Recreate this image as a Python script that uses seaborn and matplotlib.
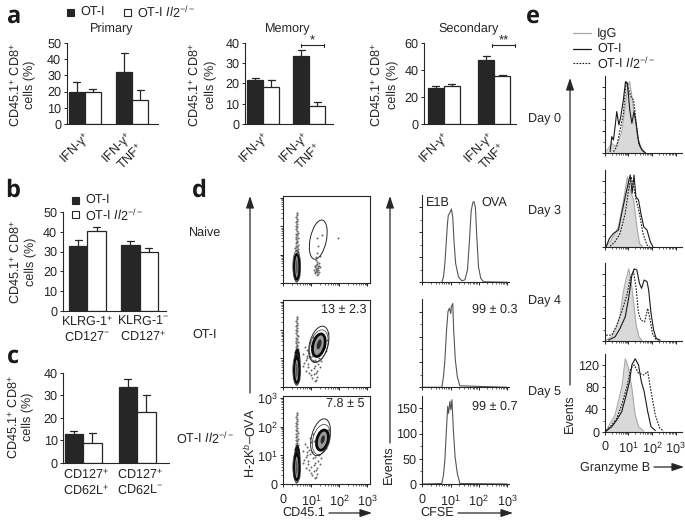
import matplotlib
matplotlib.use("Agg")
import matplotlib.pyplot as plt
import numpy as np
import pandas as pd
import seaborn as sns
from matplotlib.patches import Ellipse, Rectangle

sns.set_theme(style="ticks")
plt.rcParams["font.family"] = ["Liberation Sans", "DejaVu Sans"]
plt.rcParams["mathtext.fontset"] = "custom"
plt.rcParams["mathtext.rm"] = "Liberation Sans"
plt.rcParams["mathtext.it"] = "Liberation Sans:italic"
plt.rcParams["mathtext.bf"] = "Liberation Sans:bold"
plt.rcParams["text.hinting"] = "none"

INK = "#262626"
FS = 9.1
W, H = 685, 521
KO = r"OT-I $\mathit{Il2}^{-/-}$"
GENOTYPES = ["OT-I", "KO"]

# ------------------------------------------------
# Bar values (panels a, b, c)
# ------------------------------------------------
ifn_labels = ["IFN-γ$^{+}$", "IFN-γ$^{+}$\nTNF$^{+}$"]

primary_wt = [19.6, 32.4]
primary_ko = [19.6, 14.7]
primary_wt_top = [25.8, 43.6]
primary_ko_top = [21.9, 20.9]

memory_wt = [21.8, 33.4]
memory_ko = [18.2, 8.9]
memory_wt_top = [22.5, 36.7]
memory_ko_top = [21.8, 11.0]

secondary_wt = [26.8, 47.4]
secondary_ko = [28.3, 36.0]
secondary_wt_top = [28.5, 50.4]
secondary_ko_top = [30.0, 36.7]

klrg_labels = ["KLRG-1$^{+}$\nCD127$^{-}$", "KLRG-1$^{-}$\nCD127$^{+}$"]
klrg_wt = [33.0, 33.2]
klrg_ko = [40.7, 29.7]
klrg_wt_top = [35.8, 35.3]
klrg_ko_top = [42.7, 32.0]

cd62_labels = ["CD127$^{+}$\nCD62L$^{+}$", "CD127$^{+}$\nCD62L$^{-}$"]
cd62_wt = [12.7, 33.6]
cd62_ko = [8.7, 22.4]
cd62_wt_top = [14.2, 37.0]
cd62_ko_top = [13.3, 30.3]

# ------------------------------------------------
# Flow cytometry dots (log decades)
# ------------------------------------------------
column_x = [
    0.46, 0.50, 0.43, 0.53, 0.48, 0.41, 0.55, 0.47, 0.51, 0.44,
    0.49, 0.45, 0.52, 0.42, 0.54, 0.47, 0.50, 0.44, 0.56, 0.48,
    0.43, 0.51, 0.46, 0.53, 0.40, 0.49, 0.52, 0.45, 0.47, 0.50,
    0.44, 0.54, 0.48, 0.42, 0.51, 0.46, 0.49, 0.53, 0.45, 0.47,
    0.50, 0.44, 0.52, 0.48, 0.46, 0.51, 0.43, 0.49, 0.47, 0.53,
    0.45, 0.50, 0.48, 0.44, 0.52, 0.47, 0.49, 0.46, 0.51, 0.48,
    0.45, 0.50, 0.47, 0.49, 0.46, 0.48, 0.50, 0.47, 0.49, 0.48,
]
column_y = [
    0.08, 0.12, 0.16, 0.20, 0.22, 0.26, 0.28, 0.31, 0.33, 0.36,
    0.38, 0.40, 0.42, 0.44, 0.46, 0.48, 0.50, 0.52, 0.53, 0.55,
    0.57, 0.59, 0.61, 0.62, 0.64, 0.66, 0.68, 0.70, 0.72, 0.74,
    0.76, 0.78, 0.80, 0.83, 0.85, 0.88, 0.90, 0.93, 0.96, 0.99,
    1.02, 1.05, 1.08, 1.12, 1.15, 1.19, 1.23, 1.27, 1.31, 1.35,
    1.40, 1.44, 1.49, 1.54, 1.58, 1.63, 1.68, 1.73, 1.78, 1.84,
    1.90, 1.96, 2.02, 2.08, 2.14, 2.20, 2.27, 2.33, 2.40, 2.47,
]

naive_x = [1.12, 1.18, 1.22, 1.16, 1.25, 1.20, 1.28, 1.14, 1.19, 1.24,
           1.10, 1.21, 1.17, 1.26, 1.23, 1.15, 1.20, 1.30, 1.18, 1.22,
           1.24, 1.38, 1.19, 1.95, 1.32, 1.13, 1.27, 1.16, 1.21, 1.24]
naive_y = [0.35, 0.42, 0.30, 0.50, 0.45, 0.55, 0.38, 0.60, 0.68, 0.62,
           0.48, 0.75, 0.82, 0.70, 0.52, 0.40, 0.46, 0.58, 0.92, 1.05,
           1.30, 1.70, 1.60, 1.60, 0.95, 0.58, 0.62, 0.64, 0.38, 0.33]

scatter_x = [0.72, 0.80, 0.85, 0.90, 0.95, 1.00, 1.05, 1.10, 1.15, 1.20,
             0.75, 0.82, 0.88, 0.93, 0.98, 1.03, 1.08, 1.13, 1.18, 1.24,
             0.78, 0.86, 0.92, 1.02, 1.12, 1.22, 1.30, 0.70, 1.00, 1.16,
             1.48, 1.55, 1.60, 1.52, 0.96, 1.06, 1.26, 0.84, 1.10, 1.34]
scatter_y = [1.15, 0.95, 1.30, 0.80, 1.05, 0.60, 0.90, 0.45, 0.75, 0.35,
             0.85, 0.55, 0.70, 1.20, 0.40, 1.10, 0.65, 0.95, 0.50, 0.80,
             1.40, 1.00, 0.50, 0.30, 0.20, 0.55, 0.70, 0.75, 1.45, 0.25,
             1.40, 1.65, 1.90, 1.25, 1.60, 1.75, 1.00, 1.10, 1.50, 0.90]

# density rings: centre x, centre y, width, height, tilt
column_rings = [[0.48, 0.60, 0.28, 1.10, 0], [0.48, 0.58, 0.19, 0.88, 0], [0.48, 0.58, 0.07, 0.50, 0]]
upper_rings = [[0.50, 0.95, 0.22, 0.82, 0]]
otI_rings = [[1.27, 1.45, 0.62, 1.15, -15], [1.27, 1.47, 0.42, 0.82, -15], [1.28, 1.50, 0.15, 0.36, -15]]
ko_rings = [[1.36, 1.55, 0.60, 1.08, -15], [1.40, 1.53, 0.40, 0.72, -15], [1.41, 1.55, 0.13, 0.30, -15]]

# gate outline: centre x, centre y, width, height, tilt
gate_naive = [1.25, 1.53, 0.58, 1.40, -12]
gate_otI = [1.27, 1.50, 0.66, 1.32, -15]
gate_ko = [1.33, 1.63, 0.64, 1.32, -15]

# ------------------------------------------------
# CFSE histograms (panel d)
# ------------------------------------------------
cfse_naive_x = [0.69, 0.75, 0.80, 0.89, 0.92, 0.98, 1.03, 1.08, 1.12, 1.18, 1.28, 1.40,
                1.51, 1.60, 1.67, 1.73, 1.79, 1.83, 1.88, 1.93, 1.99, 2.07, 2.17, 3.00]
cfse_naive_y = [0, 11, 38, 117, 134, 140, 147, 130, 84, 38, 11, 3,
                5, 25, 84, 143, 160, 162, 150, 91, 31, 8, 1, 0]
cfse_otI_x = [0.0, 0.69, 0.75, 0.80, 0.86, 0.91, 0.96, 1.01, 1.03, 1.08, 1.11, 1.17, 1.24, 1.33, 3.0]
cfse_otI_y = [0, 0, 21, 54, 114, 150, 157, 146, 160, 166, 114, 54, 21, 3, 0]
cfse_ko_x = [0.0, 0.69, 0.75, 0.80, 0.86, 0.90, 0.93, 0.98, 1.01, 1.05, 1.10, 1.16, 1.24, 1.33, 3.0]
cfse_ko_y = [0, 1, 18, 48, 114, 154, 140, 164, 147, 167, 107, 54, 21, 1, 0]

# ------------------------------------------------
# Granzyme B histograms (panel e)
# ------------------------------------------------
day0_igg_x = [0.01, 0.16, 0.30, 0.44, 0.58, 0.72, 0.87, 0.97, 1.05, 1.15, 1.29, 1.43, 1.57, 1.72]
day0_igg_y = [1, 9, 18, 12, 21, 39, 84, 120, 129, 102, 60, 24, 6, 1]
day0_wt_x = [0.23, 0.30, 0.37, 0.44, 0.51, 0.60, 0.68, 0.79, 0.88, 0.96, 1.06, 1.15, 1.24, 1.33, 1.44, 1.57, 1.72]
day0_wt_y = [3, 30, 24, 48, 75, 51, 66, 96, 129, 126, 78, 54, 75, 54, 18, 6, 1]
day0_ko_x = [0.37, 0.51, 0.65, 0.79, 0.91, 1.01, 1.11, 1.22, 1.29, 1.39, 1.50, 1.67]
day0_ko_y = [3, 12, 42, 72, 129, 114, 102, 96, 72, 30, 12, 2]

day3_igg_x = [0.01, 0.23, 0.44, 0.58, 0.72, 0.87, 0.96, 1.08, 1.22, 1.36, 1.47, 1.59]
day3_igg_y = [1, 10, 25, 37, 67, 103, 127, 103, 85, 37, 7, 1]
day3_wt_x = [0.06, 0.20, 0.37, 0.58, 0.72, 0.87, 1.01, 1.08, 1.16, 1.24, 1.32, 1.43, 1.53, 1.65, 1.79, 1.93, 2.04]
day3_wt_y = [1, 16, 25, 31, 61, 91, 118, 130, 97, 130, 91, 85, 61, 37, 31, 10, 1]
day3_ko_x = [0.23, 0.44, 0.65, 0.87, 1.01, 1.11, 1.22, 1.33, 1.47, 1.62, 1.79, 1.90]
day3_ko_y = [2, 10, 25, 61, 103, 127, 109, 85, 61, 25, 4, 1]

day4_igg_x = [0.06, 0.30, 0.51, 0.65, 0.79, 0.91, 1.02, 1.12, 1.22, 1.33, 1.45, 1.57]
day4_igg_y = [1, 7, 25, 46, 88, 112, 129, 106, 70, 28, 7, 1]
day4_wt_x = [0.16, 0.44, 0.65, 0.87, 1.01, 1.15, 1.25, 1.36, 1.47, 1.56, 1.67, 1.79, 1.86, 1.96, 2.07, 2.18, 2.35]
day4_wt_y = [1, 7, 22, 43, 76, 118, 129, 127, 103, 94, 109, 106, 91, 49, 19, 4, 1]
day4_ko_x = [0.06, 0.30, 0.51, 0.72, 0.94, 1.08, 1.22, 1.33, 1.42, 1.53, 1.69, 1.82, 1.91, 2.02, 2.15, 2.29]
day4_ko_y = [10, 10, 28, 52, 82, 112, 124, 94, 52, 37, 34, 58, 40, 13, 3, 1]

day5_igg_x = [0.06, 0.23, 0.44, 0.61, 0.74, 0.87, 1.01, 1.15, 1.29, 1.43, 1.65]
day5_igg_y = [1, 15, 30, 60, 84, 131, 114, 78, 30, 9, 1]
day5_wt_x = [0.06, 0.30, 0.51, 0.72, 0.91, 1.05, 1.15, 1.29, 1.43, 1.55, 1.67, 1.82, 1.96, 2.14]
day5_wt_y = [1, 9, 21, 36, 66, 90, 120, 131, 120, 90, 72, 36, 9, 2]
day5_ko_x = [0.06, 0.30, 0.51, 0.72, 0.94, 1.11, 1.25, 1.43, 1.65, 1.82, 1.96, 2.14, 2.33, 2.50]
day5_ko_y = [2, 12, 24, 48, 81, 114, 120, 105, 102, 108, 72, 30, 6, 1]

decade_labels = ["0", "10$^{1}$", "10$^{2}$", "10$^{3}$"]
decade_ticks = [0, 1, 2, 3]

fig = plt.figure(figsize=(W / 100, H / 100), dpi=100)


def px_axes(left, top, right, bottom):
    """Axes placed with reference pixel coordinates."""
    ax = fig.add_axes([left / W, 1 - bottom / H, (right - left) / W, (bottom - top) / H])
    ax.patch.set_alpha(0)
    for spine in ax.spines.values():
        spine.set_linewidth(0.8)
        spine.set_color(INK)
    ax.tick_params(colors=INK, labelsize=FS, width=0.7, length=2.5, pad=1.5)
    ax.tick_params(which="minor", width=0.5, length=1.5)
    return ax


def draw_bars(box, centers, labels, wt, ko, wt_top, ko_top, ymax, yticks, rotate=False, label_at=(0, 1)):
    ax = px_axes(*box)
    spacing = centers[1] - centers[0]
    df = pd.DataFrame({
        "cat": labels * 2,
        "val": wt + ko,
        "geno": [GENOTYPES[0]] * 2 + [GENOTYPES[1]] * 2,
    })
    bar_width = 32 / spacing if spacing < 52 else 37 / spacing
    sns.barplot(
        data=df, x="cat", y="val", hue="geno", hue_order=GENOTYPES,
        palette={"OT-I": INK, "KO": "white"}, edgecolor=INK, linewidth=0.9,
        width=bar_width, gap=0, saturation=1, errorbar=None, legend=False, ax=ax,
    )
    tops = wt_top + ko_top
    for bar, top in zip(ax.patches, tops):
        mid = bar.get_x() + bar.get_width() / 2
        ax.plot([mid, mid], [bar.get_height(), top], color=INK, lw=0.9, zorder=1)
        half = 3.5 / spacing
        ax.plot([mid - half, mid + half], [top, top], color=INK, lw=0.9, zorder=1)
    ax.set_xlim((box[0] - centers[0]) / spacing, (box[2] - centers[0]) / spacing)
    ax.set_ylim(0, ymax)
    ax.set_yticks(yticks)
    ax.set_xlabel("")
    ax.set_ylabel("")
    ax.tick_params(axis="x", length=0, pad=3)
    ax.set_xticks(list(label_at))
    if rotate:
        ax.set_xticklabels(labels, rotation=45, ha="right", va="top",
                           rotation_mode="anchor", linespacing=1.05)
    else:
        ax.set_xticklabels(labels, linespacing=1.15)
    sns.despine(ax=ax)
    return ax


def decade_minor():
    base = np.log10(np.arange(2, 10))
    return np.concatenate([base, base + 1, base + 2])


def add_rings(ax, rings, core="#2a2a2a", ring_lw=2.0):
    # thin outer contour, thick dense ring with grey middle, core
    styles = [
        dict(fill=False, edgecolor="#333333", lw=0.5),
        dict(facecolor="#9a9a9a", edgecolor="#0a0a0a", lw=ring_lw),
        dict(facecolor=core, edgecolor="none", lw=0),
    ]
    for ring, style in zip(rings, styles):
        ax.add_patch(Ellipse(ring[:2], ring[2], ring[3], angle=ring[4], **style))


def draw_dots(box, col_x, col_y, side_x, side_y, gate, rings=None, labels=False):
    ax = px_axes(*box)
    sns.scatterplot(x=col_x, y=col_y, s=2.5, color="#6a6a6a", linewidth=0, ax=ax)
    sns.scatterplot(x=side_x, y=side_y, s=2, color="#666666", linewidth=0, ax=ax)
    if rings is not None:
        ax.add_patch(Ellipse(upper_rings[0][:2], upper_rings[0][2], upper_rings[0][3],
                             facecolor="#111111", edgecolor="none"))
        add_rings(ax, rings)
    add_rings(ax, column_rings, core="#5a5a5a", ring_lw=1.5)
    ax.add_patch(Ellipse(gate[:2], gate[2], gate[3], angle=gate[4], fill=False,
                         edgecolor=INK, lw=0.7))
    ax.set_xlim(0, 3.11)
    ax.set_ylim(0, 3.07)
    ax.set_xticks(decade_ticks)
    ax.set_yticks(decade_ticks)
    ax.set_xticks(decade_minor(), minor=True)
    ax.set_yticks(decade_minor(), minor=True)
    ax.set_xticklabels(decade_labels if labels else [])
    ax.set_yticklabels(decade_labels if labels else [])
    ax.set_xlabel("")
    ax.set_ylabel("")
    ax.tick_params(axis="x", pad=4)
    return ax


def draw_cfse(box, x, y, labels=False):
    ax = px_axes(*box)
    sns.lineplot(x=x, y=y, sort=False, estimator=None, color="#555555", lw=0.8, ax=ax)
    ax.set_xlim(0, 3.07)
    ax.set_ylim(0, 175)
    ax.set_xticks(decade_ticks)
    ax.set_yticks([0, 50, 100, 150])
    ax.set_xticks(decade_minor(), minor=True)
    ax.set_yticks([25, 75, 125], minor=True)
    ax.set_xticklabels(decade_labels if labels else [])
    ax.set_yticklabels(["0", "50", "100", "150"] if labels else [])
    ax.tick_params(axis="x", pad=4)
    sns.despine(ax=ax)
    return ax


def draw_gzmb(box, igg, wt, ko, labels=False):
    ax = px_axes(*box)
    ax.fill_between(igg[0], igg[1], color="#d9d9d9", lw=0)
    sns.lineplot(x=igg[0], y=igg[1], sort=False, estimator=None, color="#a8a8a8", lw=0.8, ax=ax)
    sns.lineplot(x=wt[0], y=wt[1], sort=False, estimator=None, color="#1a1a1a", lw=0.8, ax=ax)
    sns.lineplot(x=ko[0], y=ko[1], sort=False, estimator=None, color="#1a1a1a", lw=0.8,
                 linestyle=(0, (1.5, 1.2)), ax=ax)
    ax.set_xlim(0, 3.27)
    ax.set_ylim(0, 139)
    ax.set_xticks(decade_ticks)
    ax.set_yticks([0, 40, 80, 120])
    ax.set_xticks(decade_minor(), minor=True)
    ax.set_yticks([20, 60, 100], minor=True)
    ax.set_xticklabels(decade_labels if labels else [])
    ax.set_yticklabels(["0", "40", "80", "120"] if labels else [])
    ax.tick_params(axis="x", pad=4)
    sns.despine(ax=ax)
    return ax


# ------------------------------------------------
# Panels a, b, c
# ------------------------------------------------
draw_bars((66.7, 43, 158, 124), [84.5, 132], ifn_labels, primary_wt, primary_ko,
          primary_wt_top, primary_ko_top, 50, [0, 10, 20, 30, 40, 50], rotate=True, label_at=(-0.03, 0.85))
draw_bars((245, 43, 333, 124), [263, 309], ifn_labels, memory_wt, memory_ko,
          memory_wt_top, memory_ko_top, 40, [0, 10, 20, 30, 40], rotate=True, label_at=(-0.03, 0.85))
draw_bars((424, 43, 516, 124.3), [443.7, 494.3], ifn_labels, secondary_wt, secondary_ko,
          secondary_wt_top, secondary_ko_top, 60, [0, 20, 40, 60], rotate=True, label_at=(-0.03, 0.85))
draw_bars((62.7, 212.3, 165.7, 310.7), [87.3, 139.7], klrg_labels, klrg_wt, klrg_ko,
          klrg_wt_top, klrg_ko_top, 50, [0, 10, 20, 30, 40, 50], label_at=(0, 1.06))
draw_bars((63.3, 372.7, 169, 463), [83, 137], cd62_labels, cd62_wt, cd62_ko,
          cd62_wt_top, cd62_ko_top, 40, [0, 10, 20, 30, 40], label_at=(0.06, 1.06))

# ------------------------------------------------
# Panel d
# ------------------------------------------------
draw_dots((283.3, 195.7, 370.3, 283.3), column_x, column_y, naive_x, naive_y, gate_naive)
draw_dots((283.3, 300, 370.3, 386.7), column_x, column_y, scatter_x, scatter_y, gate_otI,
          rings=otI_rings)
draw_dots((283.3, 396, 370.3, 484), column_x, column_y, scatter_x, scatter_y, gate_ko,
          rings=ko_rings, labels=True)

draw_cfse((422.3, 195, 509, 282.3), cfse_naive_x, cfse_naive_y)
draw_cfse((422.3, 299, 509, 387.3), cfse_otI_x, cfse_otI_y)
draw_cfse((422.3, 395.7, 509, 484), cfse_ko_x, cfse_ko_y, labels=True)

# ------------------------------------------------
# Panel e
# ------------------------------------------------
draw_gzmb((604.7, 76, 682, 153.3), (day0_igg_x, day0_igg_y), (day0_wt_x, day0_wt_y), (day0_ko_x, day0_ko_y))
draw_gzmb((604.7, 170, 682, 247.3), (day3_igg_x, day3_igg_y), (day3_wt_x, day3_wt_y), (day3_ko_x, day3_ko_y))
draw_gzmb((604.7, 263.3, 682, 340.7), (day4_igg_x, day4_igg_y), (day4_wt_x, day4_wt_y), (day4_ko_x, day4_ko_y))
draw_gzmb((604.7, 354.3, 682, 431.7), (day5_igg_x, day5_igg_y), (day5_wt_x, day5_wt_y), (day5_ko_x, day5_ko_y),
          labels=True)

# ------------------------------------------------
# Overlay for free text, arrows and hand-built legends
# ------------------------------------------------
over = fig.add_axes([0, 0, 1, 1])
over.set_xlim(0, W)
over.set_ylim(H, 0)
over.axis("off")


def label(x, y, s, ha="center", rotation=0, size=FS, **kw):
    over.text(x, y, s, ha=ha, va="center", rotation=rotation, fontsize=size, color=INK, **kw)


def arrow(x0, y0, x1, y1):
    over.annotate("", xy=(x1, y1), xytext=(x0, y0),
                  arrowprops=dict(arrowstyle="-|>,head_length=0.6,head_width=0.2", color=INK,
                                  lw=0.9, shrinkA=0, shrinkB=0))


def bracket(x0, x1, y, stars):
    over.plot([x0, x1], [y, y], color=INK, lw=0.8)
    over.plot([x0, x0], [y - 1.5, y + 1.5], color=INK, lw=0.8)
    over.plot([x1, x1], [y - 1.5, y + 1.5], color=INK, lw=0.8)
    label((x0 + x1) / 2, y - 4, stars, size=9.5)


def swatch(x, y, color):
    over.add_patch(Rectangle((x, y - 3.5), 7, 7, facecolor=color, edgecolor=INK, lw=0.8))


for x, y, s in [(14, 17, "a"), (13, 191, "b"), (13, 357, "c"), (199, 191, "d"), (533, 17, "e")]:
    over.text(x, y, s, ha="center", va="center", fontsize=17, fontweight="bold",
              family="Open Sans", color="#1a1a1a")

swatch(67, 12, INK)
label(80, 12, "OT-I", ha="left")
swatch(124, 12, "white")
label(137, 12, KO, ha="left")

label(112, 29, "Primary")
label(288, 29, "Memory")
label(469, 29, "Secondary")
bracket(300.7, 323.7, 45, "*")
bracket(492.3, 515.3, 45, "**")

for x0, x1, yc in [(15, 30, 85), (194, 211, 85), (376, 393, 85), (15, 31, 262), (13, 28, 417)]:
    label(x0, yc, "CD45.1$^{+}$ CD8$^{+}$", rotation=90)
    label(x1, yc, "cells (%)", rotation=90)

swatch(72.5, 200, INK)
label(85, 200, "OT-I", ha="left")
swatch(72.5, 214.7, "white")
label(85, 214.7, KO, ha="left")

label(205, 233, "Naive")
label(205, 335, "OT-I")
label(205, 438, KO)
label(367, 310, "13 ± 2.3", ha="right")
label(365, 404, "7.8 ± 5", ha="right")
label(518, 310, "99 ± 0.3", ha="right")
label(518, 407, "99 ± 0.7", ha="right")
label(426, 203, "E1B", ha="left")
label(481, 203, "OVA", ha="left")

arrow(250, 393, 250, 196)
label(250, 443, "H-2K$^{b}$–OVA", rotation=90)
arrow(390, 443, 390, 196)
label(389, 465, "Events", rotation=90)
label(304, 513, "CD45.1")
arrow(329, 513, 372, 513)
label(437, 513, "CFSE")
arrow(458, 513, 513, 513)

arrow(570, 385, 570, 78)
label(570, 414, "Events", rotation=90)
label(615, 467, "Granzyme B")
arrow(654, 467, 684, 467)

for y, s in [(118, "Day 0"), (210, "Day 3"), (301, "Day 4"), (392, "Day 5")]:
    label(544, y, s)

over.plot([573, 591], [33, 33], color="#a8a8a8", lw=0.9)
over.plot([573, 591], [49, 49], color="#1a1a1a", lw=0.9)
over.plot([573, 591], [63, 63], color="#1a1a1a", lw=0.8, linestyle=(0, (1.5, 1.2)))
label(597, 33, "IgG", ha="left")
label(597, 49, "OT-I", ha="left")
label(597, 63, KO, ha="left")

fig.savefig("out.png", dpi=100)
